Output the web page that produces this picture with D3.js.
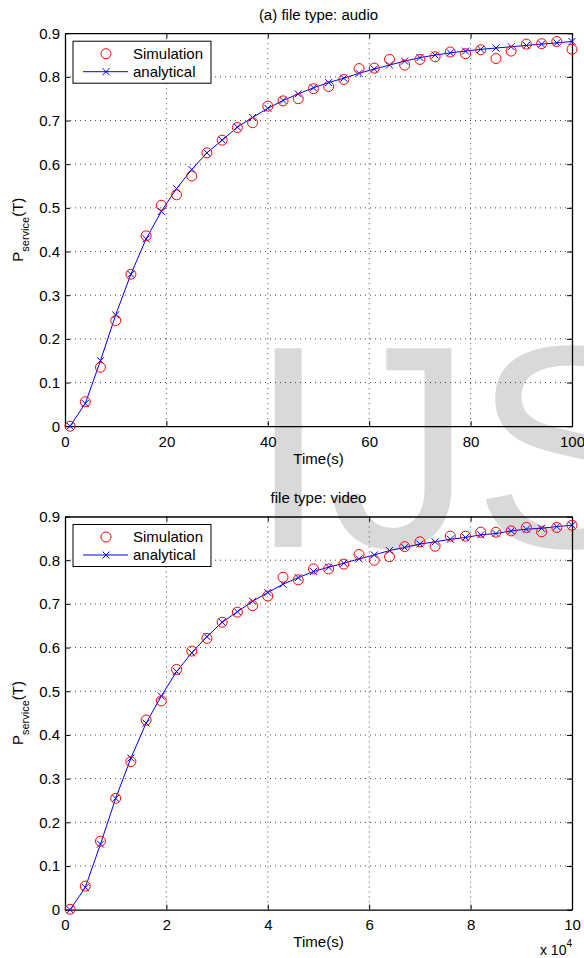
<!DOCTYPE html>
<html>
<head>
<meta charset="utf-8">
<script src="https://cdn.jsdelivr.net/npm/d3@7"></script>
<style>
  body { margin: 0; background: #fff; }
  svg { display: block; font-family: "Liberation Sans", Arial, sans-serif; }
</style>
</head>
<body>
<div id="chart"></div>
<script>
// Data
const timeAudio = [1, 4, 7, 10, 13, 16, 19, 22, 25, 28, 31, 34, 37, 40, 43, 46, 49, 52, 55, 58, 61, 64, 67, 70, 73, 76, 79, 82, 85, 88, 91, 94, 97, 100];
const simAudio = [0.000, 0.056, 0.135, 0.242, 0.348, 0.436, 0.506, 0.530, 0.573, 0.626, 0.655, 0.684, 0.695, 0.733, 0.745, 0.750, 0.773, 0.778, 0.794, 0.819, 0.820, 0.840, 0.827, 0.840, 0.846, 0.857, 0.853, 0.862, 0.842, 0.859, 0.875, 0.876, 0.881, 0.863];
const anaAudio = [0.000, 0.052, 0.150, 0.255, 0.348, 0.429, 0.492, 0.544, 0.588, 0.626, 0.655, 0.685, 0.707, 0.728, 0.746, 0.761, 0.775, 0.787, 0.797, 0.808, 0.818, 0.827, 0.836, 0.844, 0.850, 0.855, 0.859, 0.863, 0.866, 0.869, 0.872, 0.875, 0.878, 0.881];

const timeVideo = [0.1, 0.4, 0.7, 1.0, 1.3, 1.6, 1.9, 2.2, 2.5, 2.8, 3.1, 3.4, 3.7, 4.0, 4.3, 4.6, 4.9, 5.2, 5.5, 5.8, 6.1, 6.4, 6.7, 7.0, 7.3, 7.6, 7.9, 8.2, 8.5, 8.8, 9.1, 9.4, 9.7, 10.0];
const simVideo = [0.001, 0.054, 0.157, 0.255, 0.339, 0.434, 0.478, 0.550, 0.592, 0.621, 0.658, 0.681, 0.696, 0.718, 0.761, 0.755, 0.780, 0.780, 0.791, 0.813, 0.800, 0.808, 0.831, 0.842, 0.832, 0.855, 0.855, 0.864, 0.864, 0.867, 0.875, 0.865, 0.875, 0.880];
const anaVideo = [0.000, 0.051, 0.150, 0.255, 0.347, 0.427, 0.489, 0.545, 0.588, 0.625, 0.658, 0.682, 0.706, 0.726, 0.745, 0.760, 0.774, 0.784, 0.793, 0.803, 0.812, 0.822, 0.829, 0.837, 0.842, 0.848, 0.852, 0.858, 0.861, 0.867, 0.871, 0.873, 0.877, 0.880];

const yTicks = [0, 0.1, 0.2, 0.3, 0.4, 0.5, 0.6, 0.7, 0.8, 0.9];
const yTickLabels = ["0", "0.1", "0.2", "0.3", "0.4", "0.5", "0.6", "0.7", "0.8", "0.9"];
const xTicksAudio = [0, 20, 40, 60, 80, 100];
const xTicksVideo = [0, 2, 4, 6, 8, 10];
const legendNames = ["Simulation", "analytical"];

const W = 584, H = 958;
const svg = d3.select("#chart").append("svg").attr("width", W).attr("height", H);

// Watermark sits behind everything
svg.append("text")
    .attr("x", 248)
    .attr("y", 547)
    .attr("fill", "#d9d9d9")
    .style("font-size", "289px")
    .text("IJS");

function drawPanel(opt) {
    const margin = { left: 65, top: opt.top };
    const width = 572 - 65;
    const height = opt.bottom - opt.top;

    const g = svg.append("g").attr("transform", `translate(${margin.left},${margin.top})`);

    const x = d3.scaleLinear().domain(opt.xDomain).range([0, width]);
    const y = d3.scaleLinear().domain([0, 0.9]).range([height, 0]);

    // dotted grid
    g.append("g").selectAll("line")
        .data(opt.xTicks.slice(1, -1))
        .join("line")
        .attr("x1", d => x(d)).attr("x2", d => x(d))
        .attr("y1", 0).attr("y2", height)
        .attr("stroke", "#444").attr("stroke-dasharray", "1,4");
    g.append("g").selectAll("line")
        .data(yTicks.slice(1, -1))
        .join("line")
        .attr("x1", 0).attr("x2", width)
        .attr("y1", d => y(d)).attr("y2", d => y(d))
        .attr("stroke", "#444").attr("stroke-dasharray", "1,4");

    // axes with inward ticks on all four sides
    const xb = g.append("g").attr("transform", `translate(0,${height})`)
        .call(d3.axisBottom(x).tickValues(opt.xTicks).tickSizeInner(-5).tickSizeOuter(0).tickPadding(10));
    const yl = g.append("g")
        .call(d3.axisLeft(y).tickValues(yTicks).tickFormat((d, i) => yTickLabels[i]).tickSizeInner(-5).tickSizeOuter(0).tickPadding(5));
    g.append("g").attr("transform", `translate(${width},0)`)
        .call(d3.axisRight(y).tickValues(yTicks).tickFormat("").tickSizeInner(-5).tickSizeOuter(0));
    g.append("g")
        .call(d3.axisTop(x).tickValues(opt.xTicks).tickFormat("").tickSizeInner(-5).tickSizeOuter(0));

    g.selectAll(".domain").attr("stroke", "#000").attr("stroke-width", 1.3);
    g.selectAll(".tick line").attr("stroke", "#000");
    g.selectAll(".tick text").attr("fill", "#000").style("font-size", "15px").style("font-family", "inherit");

    // analytical line
    const pts = opt.xs.map((t, i) => [t, opt.ana[i]]);
    g.append("path")
        .datum(pts)
        .attr("fill", "none")
        .attr("stroke", "#0000ff")
        .attr("stroke-width", 1)
        .attr("d", d3.line().x(d => x(d[0])).y(d => y(d[1])));

    g.append("g").selectAll("path")
        .data(pts)
        .join("path")
        .attr("transform", d => `translate(${x(d[0])},${y(d[1])})`)
        .attr("d", "M-3.5,-3.5L3.5,3.5M-3.5,3.5L3.5,-3.5")
        .attr("stroke", "#0000ff")
        .attr("stroke-width", 1);

    // simulation circles
    g.append("g").selectAll("circle")
        .data(opt.xs.map((t, i) => [t, opt.sim[i]]))
        .join("circle")
        .attr("cx", d => x(d[0]))
        .attr("cy", d => y(d[1]))
        .attr("r", 5)
        .attr("fill", "none")
        .attr("stroke", "#ff0000")
        .attr("stroke-width", 1);

    // title
    svg.append("text")
        .attr("x", 65 + width / 2)
        .attr("y", opt.titleY)
        .attr("text-anchor", "middle")
        .style("font-size", "15px")
        .text(opt.title);

    // x label
    svg.append("text")
        .attr("x", 65 + width / 2)
        .attr("y", opt.bottom + 37.5)
        .attr("text-anchor", "middle")
        .style("font-size", "15px")
        .text("Time(s)");

    // y label P_service(T)
    const yLab = svg.append("text")
        .attr("transform", `translate(23,${opt.top + height / 2}) rotate(-90)`)
        .attr("text-anchor", "middle")
        .style("font-size", "15px");
    yLab.append("tspan").text("P");
    yLab.append("tspan").attr("dy", 6).style("font-size", "11px").text("service");
    yLab.append("tspan").attr("dy", -6).text("(T)");

    // legend
    const lg = g.append("g").attr("transform", "translate(8,8)");
    lg.append("rect")
        .attr("width", 138).attr("height", 42)
        .attr("fill", "#fff").attr("stroke", "#000").attr("stroke-width", 1);
    lg.append("circle")
        .attr("cx", 33).attr("cy", 12.5).attr("r", 5)
        .attr("fill", "none").attr("stroke", "#ff0000");
    lg.append("line")
        .attr("x1", 10).attr("x2", 55).attr("y1", 30.5).attr("y2", 30.5)
        .attr("stroke", "#0000ff");
    lg.append("path")
        .attr("transform", "translate(33,30.5)")
        .attr("d", "M-3.5,-3.5L3.5,3.5M-3.5,3.5L3.5,-3.5")
        .attr("stroke", "#0000ff");
    lg.selectAll("text.lbl")
        .data(legendNames)
        .join("text")
        .attr("class", "lbl")
        .attr("x", 60)
        .attr("y", (d, i) => 17.5 + i * 18)
        .style("font-size", "15px")
        .text(d => d);

    return { g, x, y, width, height };
}

drawPanel({
    top: 33.2, bottom: 426.2,
    xDomain: [0, 100], xTicks: xTicksAudio,
    xs: timeAudio, sim: simAudio, ana: anaAudio,
    title: "(a) file type: audio", titleY: 20
});

drawPanel({
    top: 516.5, bottom: 909.7,
    xDomain: [0, 10], xTicks: xTicksVideo,
    xs: timeVideo, sim: simVideo, ana: anaVideo,
    title: "file type: video", titleY: 503
});

// x 10^4 multiplier under the bottom axis
const mult = svg.append("text")
    .attr("x", 572)
    .attr("y", 955)
    .attr("text-anchor", "end")
    .style("font-size", "14px");
mult.append("tspan").text("x 10");
mult.append("tspan").attr("dy", -8).style("font-size", "10px").text("4");
</script>
</body>
</html>
